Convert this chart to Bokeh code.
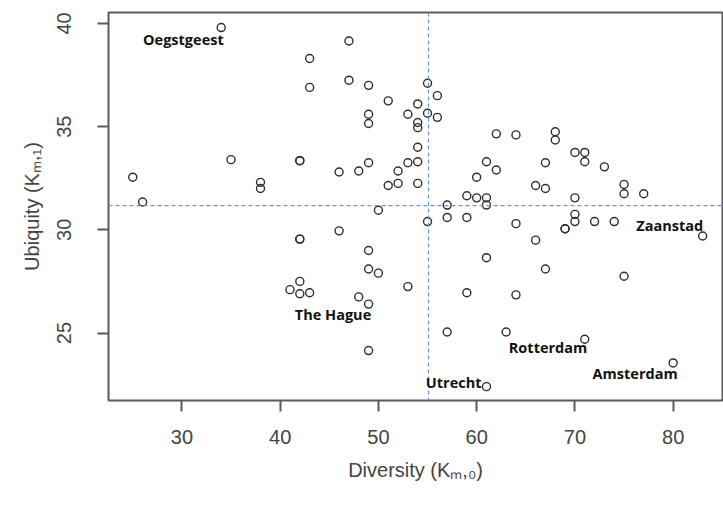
from bokeh.plotting import figure
from bokeh.models import Range1d, Span, Label, ColumnDataSource
from bokeh.embed import file_html
from bokeh.resources import INLINE

# ---------------- data ----------------
diversity = [34, 47, 43, 47, 43, 49, 55, 56, 51, 54,
             49, 49, 53, 55, 56, 54, 54, 54, 62, 64,
             68, 68, 70, 71, 71, 35, 42, 42, 46, 25,
             38, 38, 26, 49, 48, 53, 54, 52, 61, 62,
             60, 67, 51, 52, 54, 66, 67, 73, 75, 75,
             77, 70, 59, 60, 61, 61, 57, 50, 55, 57,
             59, 64, 70, 70, 69, 69, 72, 74, 83, 42,
             42, 46, 66, 49, 61, 49, 50, 67, 42, 41,
             42, 43, 53, 59, 64, 48, 49, 57, 63, 71,
             75, 49, 61, 80]
ubiquity = [39.8, 39.15, 38.3, 37.25, 36.9, 37.0, 37.1, 36.5, 36.25, 36.1,
            35.6, 35.15, 35.6, 35.65, 35.45, 35.2, 34.95, 34.0, 34.65, 34.6,
            34.75, 34.35, 33.75, 33.75, 33.3, 33.4, 33.35, 33.35, 32.8, 32.55,
            32.3, 32.0, 31.35, 33.25, 32.85, 33.25, 33.3, 32.85, 33.3, 32.9,
            32.55, 33.25, 32.15, 32.25, 32.25, 32.15, 32.0, 33.05, 32.2, 31.75,
            31.75, 31.55, 31.65, 31.55, 31.55, 31.2, 31.2, 30.95, 30.4, 30.6,
            30.6, 30.3, 30.75, 30.4, 30.05, 30.05, 30.4, 30.4, 29.7, 29.55,
            29.55, 29.95, 29.5, 29.0, 28.65, 28.1, 27.9, 28.1, 27.5, 27.1,
            26.9, 26.95, 27.25, 26.95, 26.85, 26.75, 26.4, 25.05, 25.05, 24.7,
            27.75, 24.15, 22.4, 23.55]

city_names = ["Oegstgeest", "The Hague", "Utrecht", "Rotterdam", "Zaanstad", "Amsterdam"]
city_div = [34, 42, 61, 71, 83, 80]
city_ubi = [39.8, 26.9, 22.4, 24.7, 29.7, 23.55]

mean_diversity = 55.1
mean_ubiquity = 31.17

x_ticks = [30, 40, 50, 60, 70, 80]
y_ticks = [25, 30, 35, 40]

x_title = "Diversity (K\u2098,\u2080)"
y_title = "Ubiquity (K\u2098,\u2081)"

# ---------------- layout ----------------
W, H = 723, 513
L, R, T, B = 108, 722, 12, 400

p = figure(width=W, height=H, output_backend="svg", toolbar_location=None,
           x_range=Range1d(22.53, 85.02), y_range=Range1d(21.73, 40.53),
           min_border_left=L, min_border_right=W - R, min_border_top=T,
           min_border_bottom=H - B)
p.background_fill_color = "white"
p.border_fill_color = "white"
p.grid.visible = False
p.outline_line_color = "#5a5a5a"
p.outline_line_width = 2

for ax in (p.xaxis[0], p.yaxis[0]):
    ax.axis_line_color = None
    ax.major_tick_line_color = "#5a5a5a"
    ax.major_tick_line_width = 2
    ax.major_tick_out = 11
    ax.major_tick_in = 0
    ax.minor_tick_line_color = None
    ax.major_label_text_font = "Liberation Sans"
    ax.major_label_text_font_size = "20px"
    ax.major_label_text_color = "#444444"
    ax.axis_label_text_font = "Liberation Sans"
    ax.axis_label_text_font_size = "20px"
    ax.axis_label_text_font_style = "normal"
    ax.axis_label_text_color = "#444444"

p.xaxis.ticker = x_ticks
p.yaxis.ticker = y_ticks
p.xaxis.major_label_standoff = 18
p.yaxis.major_label_standoff = 26
p.yaxis.major_label_orientation = "vertical"
p.xaxis.axis_label = x_title
p.yaxis.axis_label = y_title
p.xaxis.axis_label_standoff = 12
p.yaxis.axis_label_standoff = 12

# mean lines
dash_col = "#6a96d0"
p.add_layout(Span(location=mean_diversity, dimension="height", line_color=dash_col,
                  line_dash="4 3", line_width=1.2))
p.add_layout(Span(location=mean_ubiquity, dimension="width", line_color=dash_col,
                  line_dash="4 3", line_width=1.2))

# points
src = ColumnDataSource(dict(x=diversity, y=ubiquity))
p.scatter("x", "y", source=src, marker="circle", size=8, fill_color=None,
          line_color="#2e2e2e", line_width=1.4)

# city labels (offsets in px: dx right, dy down)
offsets = {
    "Oegstgeest": (2.5, 11.5, "right"),
    "The Hague": (-5, 21, "left"),
    "Utrecht": (-5, -4, "right"),
    "Rotterdam": (2.5, 8.5, "right"),
    "Zaanstad": (0.5, -11, "right"),
    "Amsterdam": (4.5, 10.5, "right"),
}
for name, cx, cy in zip(city_names, city_div, city_ubi):
    dx, dy, al = offsets[name]
    p.add_layout(Label(x=cx, y=cy, x_offset=dx, y_offset=-dy, text=name,
                       text_font="Open Sans", text_font_style="bold",
                       text_font_size="14.5px", text_color="#111111",
                       text_align=al, text_baseline="middle"))

open("out.html", "w").write(file_html(p, INLINE))
